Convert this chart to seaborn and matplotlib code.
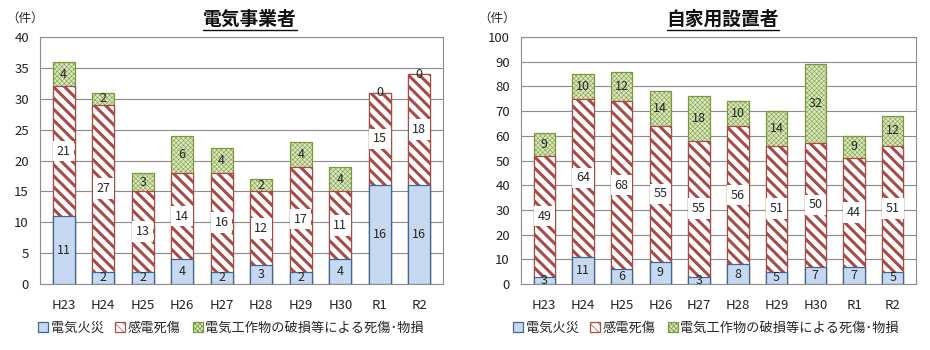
import matplotlib
matplotlib.use("Agg")
import matplotlib.pyplot as plt
import seaborn as sns
import pandas as pd
from matplotlib.patches import Patch
from matplotlib.lines import Line2D

years = ["H23", "H24", "H25", "H26", "H27", "H28", "H29", "H30", "R1", "R2"]

# 電気事業者
util_fire = [11, 2, 2, 4, 2, 3, 2, 4, 16, 16]
util_shock = [21, 27, 13, 14, 16, 12, 17, 11, 15, 18]
util_damage = [4, 2, 3, 6, 4, 2, 4, 4, 0, 0]

# 自家用設置者
self_fire = [3, 11, 6, 9, 3, 8, 5, 7, 7, 5]
self_shock = [49, 64, 68, 55, 55, 56, 51, 50, 44, 51]
self_damage = [9, 10, 12, 14, 18, 10, 14, 32, 9, 12]

titles = ["電気事業者", "自家用設置者"]
series_names = ["電気火災", "感電死傷", "電気工作物の破損等による死傷･物損"]
unit_label = "（件）"

sns.set_style("white")
plt.rcParams["font.family"] = ["Noto Sans CJK JP", "DejaVu Sans"]
plt.rcParams["hatch.linewidth"] = 2.2

BLUE_FACE, BLUE_EDGE = "#C6D9F1", "#3D6699"
RED_HATCH = "#A84A47"
GREEN_FACE, GREEN_EDGE = "#D9E5BE", "#789A3A"
GRID = "#8C8C8C"

fig = plt.figure(figsize=(9.3, 3.5), dpi=100)
ax1 = fig.add_axes([40 / 930, 66 / 350, 403 / 930, 247 / 350])
ax2 = fig.add_axes([521 / 930, 66 / 350, 395 / 930, 247 / 350])

W = 0.55


def draw(ax, fire, shock, damage, ymax, ystep):
    df = pd.DataFrame({
        "year": years,
        "fire": fire,
        "shock": shock,
        "damage": damage,
    })
    df["fs"] = df["fire"] + df["shock"]
    df["total"] = df["fs"] + df["damage"]

    with plt.rc_context({"hatch.linewidth": 0.35}):
        sns.barplot(data=df, x="year", y="total", color=GREEN_FACE, saturation=1,
                    width=W, edgecolor=GREEN_EDGE, linewidth=0.9, hatch="xxxxxxx",
                    ax=ax, zorder=2)
    sns.barplot(data=df, x="year", y="fs", color="white", saturation=1,
                width=W, edgecolor=RED_HATCH, linewidth=0.9, hatch="\\\\\\",
                ax=ax, zorder=3)
    sns.barplot(data=df, x="year", y="fire", color=BLUE_FACE, saturation=1,
                width=W, edgecolor=BLUE_EDGE, linewidth=0.9, ax=ax, zorder=4)

    fs = 9
    for i in range(len(years)):
        f, s, d = fire[i], shock[i], damage[i]
        ax.text(i, f / 2, str(f), ha="center", va="center", fontsize=fs, zorder=6)
        ax.text(i, f + s / 2, str(s), ha="center", va="center", fontsize=fs, zorder=6,
                bbox=dict(boxstyle="square,pad=0.3", fc="white", ec="none"))
        ax.text(i, f + s + d / 2, str(d), ha="center", va="center", fontsize=fs, zorder=6)

    ax.set_ylim(0, ymax)
    ax.set_xlim(-0.6, len(years) - 0.4)
    ax.set_yticks(range(0, ymax + 1, ystep))
    ax.yaxis.grid(True, color=GRID, linewidth=0.8, zorder=0)
    ax.set_axisbelow(True)
    ax.set_xlabel("")
    ax.set_ylabel("")
    ax.tick_params(axis="both", length=0, labelsize=9.5, colors="#222222")
    ax.tick_params(axis="x", pad=11)
    ax.tick_params(axis="y", pad=8)
    for sp in ax.spines.values():
        sp.set_visible(True)
        sp.set_color(GRID)
        sp.set_linewidth(0.8)


draw(ax1, util_fire, util_shock, util_damage, 40, 5)
draw(ax2, self_fire, self_shock, self_damage, 100, 10)

# titles and units
title_objs = []
for cx, t in [(250 / 930, titles[0]), (723 / 930, titles[1])]:
    title_objs.append(fig.text(cx, 1 - 19 / 350, t, ha="center", va="center",
                               fontsize=13.5, fontweight="bold", color="#111111"))
fig.text(6 / 930, 1 - 18 / 350, unit_label, ha="left", va="center", fontsize=9)
fig.text(478 / 930, 1 - 18 / 350, unit_label, ha="left", va="center", fontsize=9)

# underline titles
fig.canvas.draw()
r = fig.canvas.get_renderer()
for t in title_objs:
    bb = t.get_window_extent(r)
    y = bb.y0 - 1
    fig.add_artist(Line2D([bb.x0 / 930, bb.x1 / 930], [y / 350, y / 350],
                          transform=fig.transFigure, color="#111111", linewidth=1.0))

# legends
with plt.rc_context({"hatch.linewidth": 0.5}):
    for x0 in [38 / 930, 513 / 930]:
        h = [
            Patch(facecolor=BLUE_FACE, edgecolor=BLUE_EDGE, linewidth=0.9),
            Patch(facecolor="white", edgecolor=RED_HATCH, hatch="\\\\\\\\", linewidth=0.9),
            Patch(facecolor=GREEN_FACE, edgecolor=GREEN_EDGE, hatch="xxxxxxx", linewidth=0.9),
        ]
        fig.legend(h, series_names, loc="center left", bbox_to_anchor=(x0, 1 - 328 / 350),
                   ncol=3, frameon=False, fontsize=9.5, handlelength=0.75, handleheight=0.75,
                   handletextpad=0.2, columnspacing=0.9, borderpad=0, borderaxespad=0)

fig.savefig("out.png", dpi=100)
